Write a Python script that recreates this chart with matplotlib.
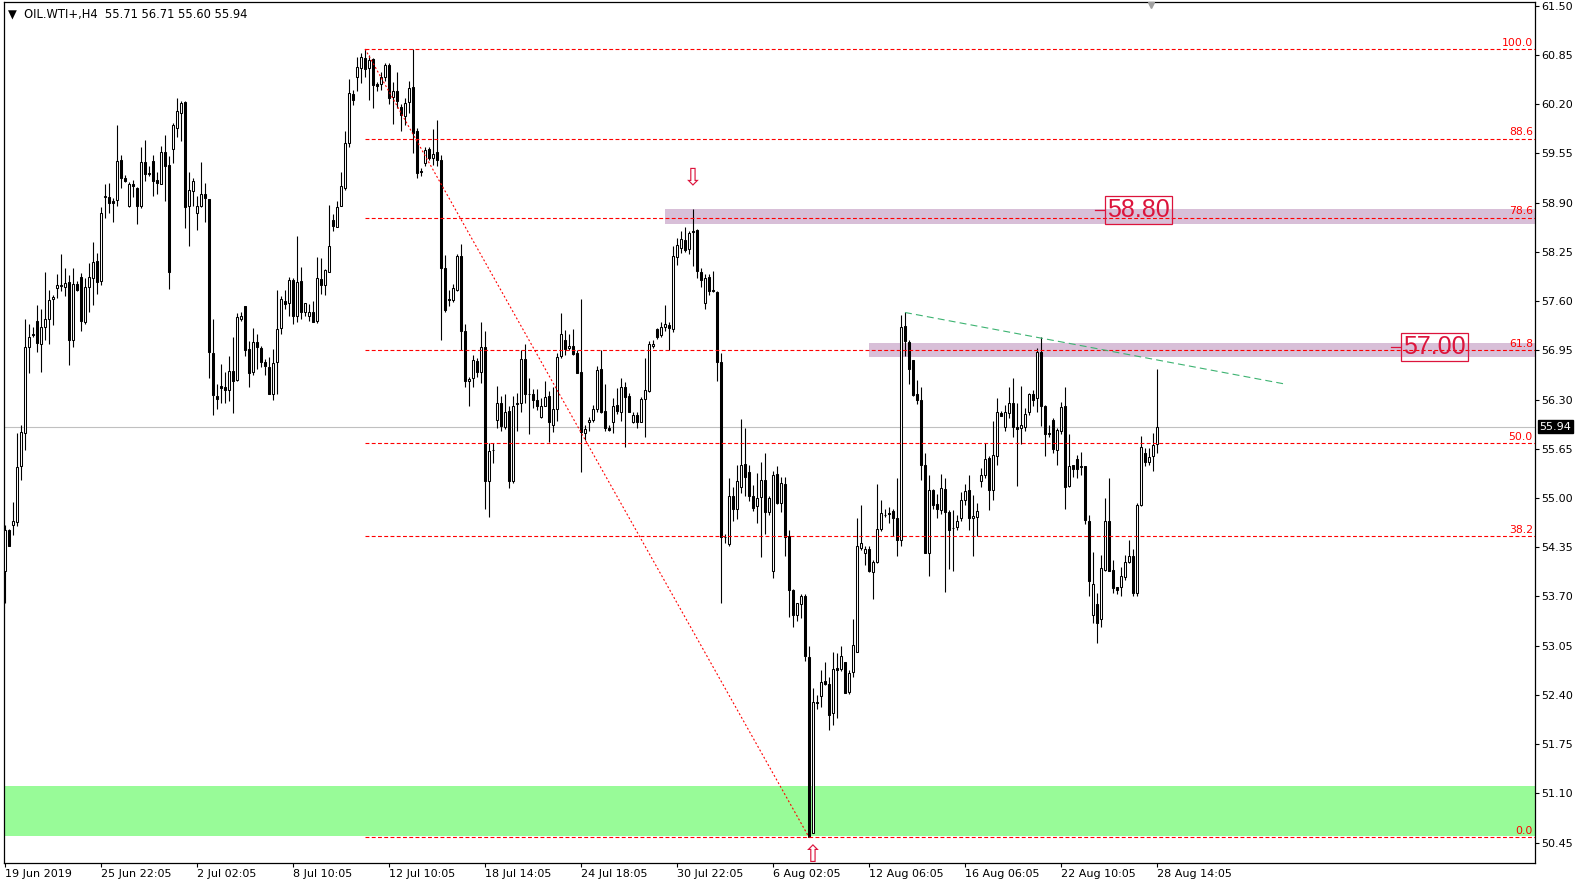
import numpy as np
import matplotlib.pyplot as plt
import matplotlib.transforms as mtransforms
from matplotlib.patches import Rectangle

plt.rcParams['font.family'] = ['DejaVu Sans']
plt.rcParams['lines.scale_dashes'] = False

# OIL.WTI+ H4 candles (bar 0 = 19 Jun 2019)
opens = [54.03, 54.58, 54.65, 54.68, 55.42, 55.86, 57.00, 57.17, 57.34, 57.04,
         57.26, 57.37, 57.63, 57.77, 57.80, 57.79, 57.85, 57.08, 57.82, 57.92,
         57.33, 57.79, 57.91, 58.13, 57.86, 58.98, 58.98, 58.92, 58.93, 59.47,
         59.23, 58.85, 59.15, 59.10, 58.85, 59.44, 59.29, 59.45, 59.20, 59.14,
         59.57, 59.40, 59.61, 59.89, 60.09, 60.23, 58.85, 59.05, 58.76, 58.85,
         59.01, 58.95, 56.92, 56.35, 56.48, 56.46, 56.42, 56.68, 56.56, 57.37,
         57.54, 56.97, 56.66, 57.06, 56.98, 56.79, 56.73, 56.38, 56.79, 57.24,
         57.60, 57.58, 57.88, 57.40, 57.87, 57.45, 57.41, 57.45, 57.34, 57.89,
         57.81, 57.99, 58.67, 58.58, 58.85, 59.10, 59.69, 60.34, 60.56, 60.68,
         60.81, 60.68, 60.80, 60.47, 60.47, 60.56, 60.72, 60.29, 60.37, 60.16,
         60.05, 60.23, 60.43, 59.85, 59.32, 59.43, 59.61, 59.49, 59.57, 59.47,
         58.04, 57.63, 57.62, 57.75, 58.19, 57.21, 56.54, 56.59, 56.81, 56.67,
         56.99, 55.23, 55.63, 56.03, 56.26, 55.94, 56.15, 55.23, 56.24, 56.26,
         56.83, 56.38, 56.38, 56.30, 56.07, 56.22, 56.35, 55.97, 56.17, 56.87,
         57.09, 56.98, 57.01, 56.92, 56.66, 55.86, 56.00, 56.03, 56.18, 56.70,
         56.15, 55.93, 56.01, 56.23, 56.14, 56.46, 56.35, 56.01, 56.10, 56.01,
         56.31, 56.41, 57.01, 57.23, 57.15, 57.26, 57.29, 57.23, 58.18, 58.30,
         58.41, 58.29, 58.52, 58.54, 57.98, 57.57, 57.92, 57.75, 57.72, 56.79,
         54.49, 54.39, 55.02, 54.86, 55.15, 55.45, 55.34, 55.03, 54.89, 55.01,
         55.24, 54.82, 54.03, 55.32, 54.94, 55.19, 54.50, 53.79, 53.45, 53.60,
         53.71, 52.90, 50.57, 52.30, 52.38, 52.58, 52.55, 52.16, 52.75, 52.74,
         52.83, 52.44, 52.70, 52.96, 54.34, 54.27, 54.32, 54.02, 54.15, 54.59,
         54.78, 54.80, 54.83, 54.74, 54.44, 57.27, 57.06, 56.82, 56.38, 56.30,
         55.44, 54.28, 55.10, 54.92, 54.84, 55.12, 54.81, 54.61, 54.62, 54.73,
         54.98, 55.11, 54.73, 54.75, 55.22, 55.31, 55.53, 55.10, 55.56, 56.12,
         55.94, 56.12, 56.26, 55.94, 55.92, 55.94, 56.14, 56.37, 56.32, 56.93,
         56.22, 55.86, 56.03, 55.64, 55.88, 56.22, 55.16, 55.44, 55.52, 55.41,
         55.42, 54.70, 53.45, 53.60, 53.40, 54.05, 54.69, 54.05, 53.82, 53.83,
         53.96, 54.15, 54.24, 53.74, 54.91, 55.59, 55.47, 55.55, 55.71]
highs = [54.64, 54.59, 54.95, 55.86, 55.97, 57.37, 57.30, 57.26, 57.55, 57.50,
         57.98, 57.75, 57.68, 57.96, 58.22, 58.04, 57.95, 58.04, 57.87, 57.97,
         57.90, 58.10, 58.38, 58.23, 58.84, 59.14, 59.16, 58.96, 59.93, 59.53,
         59.27, 59.17, 59.20, 59.11, 59.64, 59.73, 59.39, 59.53, 59.31, 59.65,
         59.80, 59.52, 59.95, 60.28, 60.24, 60.24, 59.31, 59.23, 58.99, 59.44,
         59.16, 58.95, 57.37, 56.51, 56.77, 56.66, 56.87, 57.13, 57.44, 57.45,
         57.54, 57.07, 57.24, 57.17, 57.01, 56.84, 56.86, 56.97, 57.75, 57.67,
         57.75, 57.92, 57.91, 58.46, 58.05, 57.58, 57.56, 57.60, 58.18, 58.17,
         58.03, 58.87, 58.75, 58.92, 59.30, 59.85, 60.53, 60.39, 60.82, 60.88,
         60.93, 60.85, 60.81, 60.50, 60.63, 60.74, 60.74, 60.49, 60.63, 60.20,
         60.28, 60.51, 60.93, 59.88, 59.36, 59.64, 59.64, 59.87, 59.99, 59.53,
         58.21, 57.75, 57.83, 58.22, 58.36, 57.30, 56.60, 56.89, 56.85, 57.32,
         57.21, 55.72, 55.72, 56.48, 56.35, 56.38, 56.22, 56.35, 56.39, 56.96,
         57.03, 56.59, 56.44, 56.44, 56.32, 56.54, 56.41, 56.47, 56.91, 57.44,
         57.22, 57.16, 57.23, 56.96, 57.63, 55.96, 56.07, 56.23, 56.74, 56.96,
         56.50, 55.96, 56.32, 56.45, 56.58, 56.53, 56.39, 56.13, 56.13, 56.34,
         56.85, 57.07, 57.09, 57.25, 57.33, 57.55, 57.33, 58.33, 58.44, 58.52,
         58.58, 58.52, 58.82, 58.55, 58.04, 57.96, 57.96, 58.00, 57.73, 56.92,
         54.53, 55.26, 55.14, 55.43, 56.04, 55.93, 55.43, 55.17, 55.33, 55.47,
         55.60, 55.03, 55.36, 55.42, 55.28, 55.28, 54.58, 53.80, 53.62, 53.73,
         53.73, 53.05, 52.49, 52.40, 52.73, 52.84, 52.63, 52.97, 52.95, 53.05,
         52.84, 52.73, 53.40, 54.74, 54.91, 54.36, 54.36, 54.18, 55.19, 54.98,
         54.85, 54.88, 54.85, 55.27, 57.42, 57.45, 57.09, 56.82, 56.56, 56.46,
         55.59, 55.31, 55.12, 55.05, 55.32, 55.27, 54.84, 54.84, 54.78, 55.08,
         55.19, 55.30, 55.04, 54.94, 55.39, 55.72, 55.56, 56.02, 56.32, 56.15,
         56.23, 56.46, 56.59, 56.26, 56.48, 56.19, 56.39, 56.43, 56.98, 57.13,
         56.23, 55.97, 56.05, 55.92, 56.27, 56.46, 55.85, 55.44, 55.57, 55.61,
         55.42, 54.77, 54.29, 53.75, 54.25, 55.00, 55.26, 54.18, 53.83, 54.09,
         54.25, 54.45, 54.33, 54.93, 55.82, 55.66, 55.66, 55.86, 56.71]
lows = [53.62, 54.36, 54.51, 54.63, 55.24, 55.63, 56.65, 57.12, 56.93, 56.66,
        57.08, 57.04, 57.29, 57.64, 57.73, 57.67, 56.75, 57.00, 57.74, 57.20,
        57.30, 57.45, 57.55, 57.70, 57.81, 58.70, 58.77, 58.65, 58.86, 59.10,
        59.17, 58.84, 58.98, 58.62, 58.83, 59.19, 59.25, 58.99, 59.01, 59.14,
        58.92, 57.76, 59.43, 59.77, 59.72, 58.56, 58.33, 58.85, 58.54, 58.84,
        58.65, 56.59, 56.10, 56.17, 56.25, 56.26, 56.28, 56.12, 56.55, 57.34,
        56.88, 56.47, 56.62, 56.71, 56.73, 56.63, 56.38, 56.30, 56.38, 57.17,
        57.49, 57.41, 57.30, 57.32, 57.37, 57.41, 57.34, 57.33, 57.31, 57.70,
        57.68, 57.98, 58.53, 58.58, 58.85, 59.07, 59.64, 60.19, 60.38, 60.48,
        60.56, 60.26, 60.15, 60.38, 60.39, 60.51, 60.20, 59.94, 60.15, 59.85,
        59.92, 60.09, 59.56, 59.22, 59.25, 59.39, 59.47, 59.40, 59.38, 57.08,
        57.45, 57.54, 57.59, 57.73, 56.96, 56.47, 56.22, 56.47, 56.60, 56.52,
        54.86, 54.75, 55.46, 55.93, 55.88, 55.91, 55.13, 55.20, 55.88, 56.14,
        56.26, 55.84, 56.19, 56.16, 56.06, 56.21, 55.74, 55.87, 56.02, 56.85,
        56.89, 56.96, 56.89, 56.65, 55.34, 55.77, 55.88, 56.00, 56.13, 56.12,
        55.88, 55.88, 55.86, 56.11, 56.02, 55.68, 56.13, 55.99, 55.92, 56.00,
        55.81, 56.40, 56.98, 57.10, 57.12, 57.21, 56.95, 57.19, 58.08, 58.23,
        58.25, 58.22, 58.07, 57.90, 57.79, 57.49, 57.68, 57.72, 56.55, 53.61,
        54.40, 54.37, 54.70, 54.72, 55.06, 55.02, 54.96, 54.83, 54.67, 54.22,
        54.52, 54.77, 53.95, 54.92, 54.82, 54.23, 53.43, 53.30, 53.38, 53.41,
        52.85, 50.52, 50.57, 52.22, 52.24, 52.53, 51.94, 52.00, 52.09, 52.71,
        52.42, 52.41, 52.63, 52.96, 54.31, 54.12, 54.02, 53.66, 54.14, 54.57,
        54.75, 54.67, 54.50, 54.23, 54.36, 56.88, 56.50, 56.35, 56.24, 55.24,
        54.28, 53.97, 54.86, 54.74, 54.79, 53.76, 54.06, 54.03, 54.58, 54.70,
        54.91, 54.58, 54.23, 54.50, 55.14, 55.27, 54.84, 54.97, 55.43, 56.08,
        55.89, 56.06, 55.80, 55.16, 55.71, 55.89, 56.10, 56.22, 56.13, 55.95,
        55.56, 55.81, 55.60, 55.43, 55.85, 54.86, 55.15, 55.28, 55.27, 55.31,
        54.66, 53.70, 53.35, 53.09, 53.30, 54.03, 54.03, 53.74, 53.73, 53.70,
        53.92, 54.14, 53.70, 53.70, 54.90, 55.42, 55.44, 55.35, 55.60]
closes = [54.58, 54.37, 54.70, 55.41, 55.87, 56.99, 57.13, 57.15, 57.05, 57.26,
          57.37, 57.62, 57.66, 57.81, 57.81, 57.84, 57.09, 57.83, 57.75, 57.34,
          57.78, 57.92, 58.11, 57.85, 58.76, 58.99, 58.90, 58.90, 59.45, 59.23,
          59.19, 59.15, 59.12, 58.86, 59.44, 59.28, 59.28, 59.18, 59.16, 59.57,
          59.39, 57.99, 59.92, 60.11, 60.21, 58.84, 59.07, 59.19, 58.86, 59.02,
          58.96, 56.93, 56.36, 56.31, 56.45, 56.42, 56.68, 56.55, 57.39, 57.40,
          56.95, 56.65, 57.06, 56.99, 56.79, 56.74, 56.38, 56.78, 57.23, 57.63,
          57.56, 57.88, 57.41, 57.85, 57.45, 57.57, 57.45, 57.33, 57.90, 57.81,
          58.01, 58.33, 58.59, 58.84, 59.12, 59.69, 60.35, 60.26, 60.69, 60.82,
          60.66, 60.79, 60.45, 60.44, 60.56, 60.72, 60.28, 60.38, 60.24, 60.06,
          60.21, 60.41, 59.82, 59.29, 59.31, 59.60, 59.49, 59.54, 59.47, 58.04,
          57.48, 57.61, 57.77, 58.20, 57.21, 56.55, 56.57, 56.82, 56.67, 57.00,
          55.23, 55.62, 55.63, 56.26, 55.95, 56.14, 55.22, 56.22, 56.26, 56.83,
          56.37, 56.37, 56.30, 56.22, 56.22, 56.33, 56.00, 56.17, 56.86, 57.16,
          56.97, 57.01, 56.90, 56.65, 55.87, 55.91, 56.03, 56.18, 56.69, 56.13,
          55.93, 55.90, 56.22, 56.15, 56.46, 56.34, 56.14, 56.10, 56.01, 56.31,
          56.42, 57.03, 57.04, 57.13, 57.26, 57.30, 57.24, 58.20, 58.34, 58.42,
          58.27, 58.50, 58.51, 58.00, 57.88, 57.90, 57.73, 57.73, 56.79, 54.49,
          54.49, 55.02, 54.86, 55.23, 55.43, 55.28, 55.02, 54.87, 55.00, 55.24,
          54.81, 55.00, 55.30, 54.94, 55.20, 54.48, 53.78, 53.45, 53.61, 53.71,
          52.91, 50.52, 52.30, 52.29, 52.57, 52.55, 52.13, 52.74, 52.73, 52.91,
          52.43, 52.69, 53.06, 54.37, 54.40, 54.32, 54.03, 54.15, 54.59, 54.80,
          54.77, 54.79, 54.73, 54.44, 57.26, 57.07, 56.71, 56.36, 56.30, 55.43,
          54.28, 55.10, 54.91, 54.86, 55.13, 54.81, 54.58, 54.60, 54.70, 54.98,
          55.09, 54.73, 54.76, 54.83, 55.30, 55.52, 55.11, 55.57, 56.13, 56.08,
          56.13, 56.25, 55.94, 55.91, 55.97, 56.11, 56.38, 56.30, 56.93, 56.22,
          55.85, 55.85, 55.65, 55.90, 56.20, 55.15, 55.42, 55.38, 55.38, 55.42,
          54.71, 53.90, 53.87, 53.35, 54.07, 54.69, 54.03, 53.81, 53.78, 53.97,
          54.15, 54.24, 53.75, 54.91, 55.68, 55.48, 55.54, 55.70, 55.94]

date_labels = ["19 Jun 2019", "25 Jun 22:05", "2 Jul 02:05", "8 Jul 10:05",
               "12 Jul 10:05", "18 Jul 14:05", "24 Jul 18:05", "30 Jul 22:05",
               "6 Aug 02:05", "12 Aug 06:05", "16 Aug 06:05", "22 Aug 10:05",
               "28 Aug 14:05"]
bars_per_label = 24
price_ticks = [50.45, 51.10, 51.75, 52.40, 53.05, 53.70, 54.35, 55.00, 55.65,
               56.30, 56.95, 57.60, 58.25, 58.90, 59.55, 60.20, 60.85, 61.50]

last_price = 55.94
header = "\u25bc  OIL.WTI+,H4  55.71 56.71 55.60 55.94"

# fibonacci retracement: swing high bar 90 -> swing low bar 201
fib_high = (90, 60.93)
fib_low = (201, 50.52)
fib_levels = [100.0, 88.6, 78.6, 61.8, 50.0, 38.2, 0.0]

# resistance boxes (start bar, low, high) and support band
res_zones = [(165, 58.62, 58.81), (216, 56.86, 57.05)]
support = (50.54, 51.20)
level_texts = [("58.80", 283.4, 58.80), ("57.00", 357.4, 57.00)]
trend_x = [225, 319.5]
trend_y = [57.45, 56.51]
arrow_marks = [("\u21e9", 172, 59.24), ("\u21e7", 202, 50.28)]

RED = '#FF0000'
CRIMSON = '#DC143C'

W, H = 1588, 888
fig = plt.figure(figsize=(W / 100, H / 100), dpi=100)
ax = fig.add_axes([4 / W, 25 / H, 1531 / W, 861 / H])
xmin, xmax = -0.25, 382.5
ax.set_xlim(xmin, xmax)
ax.set_ylim(50.18, 61.55)

o = np.array(opens); h = np.array(highs); l = np.array(lows); c = np.array(closes)
x = np.arange(len(o))
up = c >= o

# background zones
ax.axhspan(support[0], support[1], color='#98FB98', zorder=0, lw=0)
for x0, lo, hi in res_zones:
    ax.add_patch(Rectangle((x0, lo), xmax - x0, hi - lo, facecolor='#D8BFD8',
                           edgecolor='none', zorder=0))
ax.axhline(last_price, color='#C0C0C0', lw=0.8, zorder=1)

# candles
ax.vlines(x, l, h, color='black', lw=0.8, zorder=3)
ax.bar(x[up], c[up] - o[up], bottom=o[up], width=0.5, facecolor='white',
       edgecolor='black', lw=0.75, zorder=4)
ax.bar(x[~up], o[~up] - c[~up], bottom=c[~up], width=0.5, facecolor='black',
       edgecolor='black', lw=0.75, zorder=4)

# fibonacci
rng = fib_high[1] - fib_low[1]
for lv in fib_levels:
    p = fib_low[1] + rng * lv / 100
    ax.plot([fib_high[0], xmax], [p, p], color=RED, lw=0.8,
            ls=(0, (2.8, 1.7)), zorder=5)
    ax.annotate(f"{lv:.1f}", (xmax, p), xytext=(-1.5, 1), textcoords='offset points',
                ha='right', va='bottom', color=RED, fontsize=7.8)
ax.plot([fib_high[0], fib_low[0]], [fib_high[1], fib_low[1]], color=RED,
        lw=0.8, ls=(0, (1.4, 1.6)), zorder=5)

# trend line
ax.plot(trend_x, trend_y, color='#3CB371', lw=0.8, ls=(0, (5, 3)), zorder=5)

# level labels with a short tick on the left
for txt, bx, py in level_texts:
    ax.text(bx, py, txt, color=CRIMSON, fontsize=18, family='Liberation Sans',
            ha='center', va='center', zorder=6,
            bbox=dict(boxstyle='square,pad=0.08', fc='none', ec=CRIMSON, lw=0.9))
    ax.plot([bx - 10.8, bx - 8.7], [py, py], color=CRIMSON, lw=0.9, zorder=6)

for sym, bx, py in arrow_marks:
    ax.text(bx, py, sym, color=CRIMSON, fontsize=17, ha='center', va='center', zorder=6)

# axes styling
for s in ax.spines.values():
    s.set_color('black')
    s.set_linewidth(0.9)
ax.yaxis.tick_right()
ax.set_yticks(price_ticks)
ax.set_yticklabels([f"{v:.2f}" for v in price_ticks], fontsize=8)
ax.tick_params(axis='y', length=3, width=0.8, pad=1.5)
ax.set_xticks(np.arange(len(date_labels)) * bars_per_label)
ax.set_xticklabels(date_labels, fontsize=8, ha='left')
ax.tick_params(axis='x', length=3, width=0.8, pad=1)

# last price tag on the price scale
ax.annotate(f"{last_price:.2f}", (1.0, last_price),
            xycoords=('axes fraction', 'data'), xytext=(3, 0),
            textcoords='offset points', ha='left', va='center', fontsize=8,
            color='white', annotation_clip=False,
            bbox=dict(boxstyle='square,pad=0.15', fc='black', ec='black'))

# chart shift marker
ax.plot([286.5], [61.51], marker='v', color='#A0A0A0', ms=5, clip_on=False, zorder=7)

fig.text(8 / W, 1 - 14 / H, header, fontsize=8.3, va='center', ha='left')

fig.savefig('out.png', dpi=100)
